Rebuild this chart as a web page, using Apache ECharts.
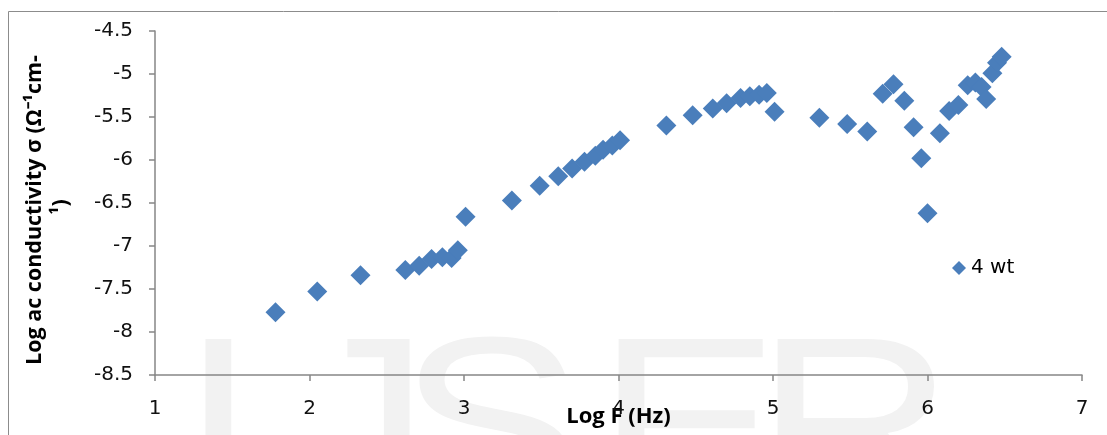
<!DOCTYPE html>
<html>
<head>
<meta charset="utf-8">
<script src="https://cdn.jsdelivr.net/npm/echarts@6/dist/echarts.min.js"></script>
<style>
  html, body { margin: 0; padding: 0; background: #ffffff; }
  #chart { width: 1107px; height: 435px; }
</style>
</head>
<body>
<div id="chart"></div>
<script>
// Log frequency (Hz) and log ac conductivity for the 4 wt sample
const logF = [
  1.78, 2.05, 2.33, 2.62, 2.71, 2.79, 2.86, 2.92, 2.96, 3.01,
  3.31, 3.49, 3.61, 3.70, 3.78, 3.85, 3.90, 3.96, 4.01,
  4.31, 4.48, 4.61, 4.70, 4.79, 4.85, 4.91, 4.96, 5.01,
  5.30, 5.48, 5.61, 5.71, 5.78, 5.85, 5.91, 5.96, 6.00,
  6.08, 6.14, 6.20, 6.26, 6.31, 6.35, 6.38, 6.42, 6.45, 6.48
];
const logSigma = [
  -7.77, -7.53, -7.34, -7.28, -7.23, -7.15, -7.13, -7.14, -7.05, -6.66,
  -6.47, -6.30, -6.19, -6.10, -6.02, -5.95, -5.88, -5.83, -5.77,
  -5.60, -5.48, -5.40, -5.34, -5.28, -5.26, -5.24, -5.22, -5.44,
  -5.51, -5.58, -5.67, -5.23, -5.12, -5.31, -5.62, -5.98, -6.62,
  -5.69, -5.43, -5.36, -5.13, -5.10, -5.15, -5.29, -4.99, -4.87, -4.80
];
const seriesName = '4 wt';
const xTitle = 'Log F (Hz)';
const yTitleLines = ['Log ac conductivity σ (Ω⁻¹cm-', '¹)'];
const watermarkLetters = ['I', 'J', 'S', 'E', 'R'];
const watermarkX = [180, 292, 398, 596, 755];

const points = logF.map((x, i) => [x, logSigma[i]]);

const blue = '#4A7EBB';
const axisGray = '#868686';
const tickFont = 'DejaVu Sans';
const titleFont = 'Open Sans';

const chart = echarts.init(document.getElementById('chart'), null, { renderer: 'canvas' });

const graphics = [
  {
    type: 'rect',
    z: 0,
    shape: { x: 8.5, y: 11.5, width: 1200, height: 600 },
    style: { fill: 'none', stroke: '#8c8c8c', lineWidth: 1 },
    silent: true
  },
  {
    type: 'text',
    z: 5,
    x: 35,
    y: 210,
    rotation: Math.PI / 2,
    style: {
      text: yTitleLines[0],
      font: 'bold 21.5px "' + titleFont + '"',
      fill: '#000000',
      textAlign: 'center',
      textVerticalAlign: 'middle'
    }
  },
  {
    type: 'text',
    z: 5,
    x: 61,
    y: 207,
    rotation: Math.PI / 2,
    style: {
      text: yTitleLines[1],
      font: 'bold 21.5px "' + titleFont + '"',
      fill: '#000000',
      textAlign: 'center',
      textVerticalAlign: 'middle'
    }
  }
];

// faint lettering behind the plot
watermarkLetters.forEach((ch, i) => {
  graphics.push({
    type: 'text',
    z: -1,
    silent: true,
    x: watermarkX[i],
    y: 438,
    scaleX: 1.15,
    style: {
      text: ch,
      font: '240px "Liberation Sans"',
      fill: '#f2f2f2',
      textAlign: 'left',
      textVerticalAlign: 'middle'
    }
  });
});

chart.setOption({
  backgroundColor: '#ffffff',
  animation: false,
  grid: {
    left: 155, right: 25, top: 31, bottom: 60,
    containLabel: false,
    outerBoundsMode: 'none'
  },
  legend: {
    show: true,
    left: 947,
    top: 253,
    icon: 'diamond',
    itemWidth: 14,
    itemHeight: 14,
    textStyle: { fontFamily: tickFont, fontSize: 20, color: '#000000' },
    data: [seriesName]
  },
  xAxis: {
    type: 'value',
    min: 1,
    max: 7,
    interval: 1,
    name: xTitle,
    nameLocation: 'middle',
    nameGap: 31,
    nameMoveOverlap: false,
    nameTextStyle: { fontFamily: titleFont, fontWeight: 'bold', fontSize: 22, color: '#000000' },
    axisLine: { show: true, onZero: false, lineStyle: { color: axisGray, width: 1.5 } },
    axisTick: { show: true, length: 6, lineStyle: { color: axisGray, width: 1.5 } },
    axisLabel: { fontFamily: tickFont, fontSize: 20, color: '#111111', margin: 24 },
    splitLine: { show: false }
  },
  yAxis: {
    type: 'value',
    min: -8.5,
    max: -4.5,
    interval: 0.5,
    axisLine: { show: true, onZero: false, lineStyle: { color: axisGray, width: 1.5 } },
    axisTick: { show: true, length: 6, lineStyle: { color: axisGray, width: 1.5 } },
    axisLabel: { fontFamily: tickFont, fontSize: 20, color: '#111111', margin: 22 },
    splitLine: { show: false }
  },
  series: [{
    name: seriesName,
    type: 'scatter',
    symbol: 'diamond',
    symbolSize: 20,
    itemStyle: { color: blue, opacity: 1 },
    data: points,
    z: 3
  }],
  graphic: graphics
});
</script>
</body>
</html>
